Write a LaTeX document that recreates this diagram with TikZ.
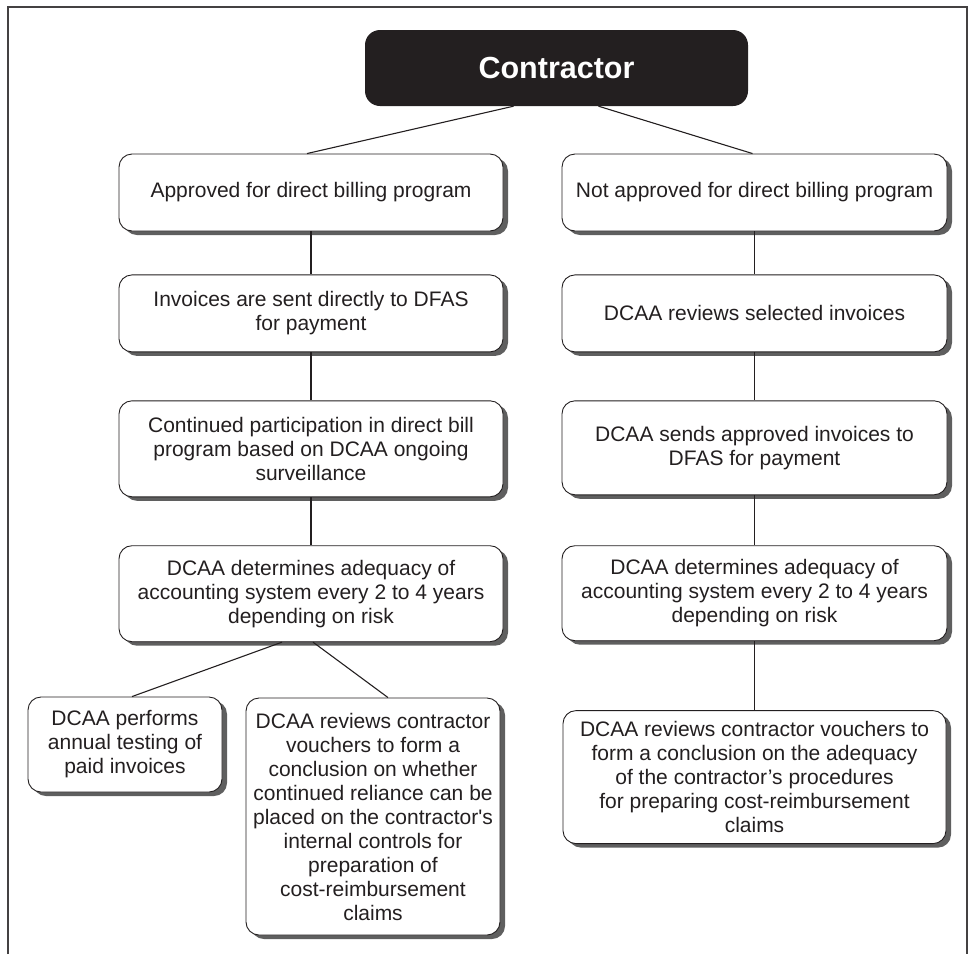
\documentclass[tikz,border=0pt]{standalone}
\usepackage{fontspec}
\setmainfont{Liberation Sans}
\usetikzlibrary{positioning,shadows}
\definecolor{Ink}{RGB}{35,31,32}
\definecolor{Shade}{RGB}{95,95,95}
\begin{document}
\begin{tikzpicture}[x=1pt, y=-1pt, node distance=48pt, every node/.style={font=\fontsize{21}{24}\selectfont, text=Ink},
  b/.style={draw=Ink, line width=0.9pt, fill=white, rounded corners=13pt, align=center, inner xsep=3pt, minimum width=384pt, minimum height=77pt, drop shadow={shadow xshift=5pt, shadow yshift=-4pt, fill=Shade, opacity=1}},
  head/.style={fill=Ink, rounded corners=15pt, minimum width=383pt, minimum height=76pt, font=\fontsize{30.5}{34}\selectfont\bfseries, text=white},
  link/.style={draw=Ink, line width=1.1pt}]
\useasboundingbox (0,0) rectangle (972,954);
\draw[line width=1.3pt, Ink!85] (8,954) |- (967,7) -- (967,954);
\node[head] (ctr) at (556.5,68) {Contractor};
\node[b] (appr) at (311,192.5) {Approved for direct billing program};
\node[b,below=43pt of appr] (inv) {Invoices are sent directly to DFAS\\for payment};
\node[b,below=of inv,minimum height=96pt] (cont) {Continued participation in direct bill\\program based on DCAA ongoing\\surveillance};
\node[b,below=of cont,minimum height=96pt] (detl) {DCAA determines adequacy of\\accounting system every 2 to 4 years\\depending on risk};
\node[b,minimum width=194pt,minimum height=95pt] (perf) at (125,744.5) {DCAA performs\\annual testing of\\paid invoices};
\node[b,minimum width=254pt,minimum height=237pt] (revl) at (373,816.5) {DCAA reviews contractor\\vouchers to form a\\conclusion on whether\\continued reliance can be\\placed on the contractor\textquotesingle s\\internal controls for\\preparation of\\cost-reimbursement\\claims};
\node[b,minimum width=385pt] (napp) at (754.5,192.5) {Not approved for direct billing program};
\node[b,below=43pt of napp,minimum width=385pt] (sel) {DCAA reviews selected invoices};
\node[b,below=of sel,minimum width=385pt,minimum height=94pt] (send) {DCAA sends approved invoices to\\DFAS for payment};
\node[b,below=50pt of send,minimum width=385pt,minimum height=95pt] (detr) {DCAA determines adequacy of\\accounting system every 2 to 4 years\\depending on risk};
\node[b,below=69pt of detr,minimum width=383pt,minimum height=133pt] (revr) {DCAA reviews contractor vouchers to\\form a conclusion on the adequacy\\of the contractor’s procedures\\for preparing cost-reimbursement\\claims};
\draw[link] ([xshift=-43pt]ctr.south) -- ([xshift=-4pt]appr.north);
\draw[link] ([xshift=42pt]ctr.south) -- ([xshift=-2pt]napp.north);
\draw[link] (appr) -- (inv) -- (cont) -- (detl);
\draw[link] (napp) -- (sel) -- (send) -- (detr) -- (revr);
\draw[link] ([xshift=-29pt]detl.south) -- ([xshift=7pt]perf.north);
\draw[link] ([xshift=2pt]detl.south) -- ([xshift=15pt]revl.north);
\end{tikzpicture}
\end{document}
